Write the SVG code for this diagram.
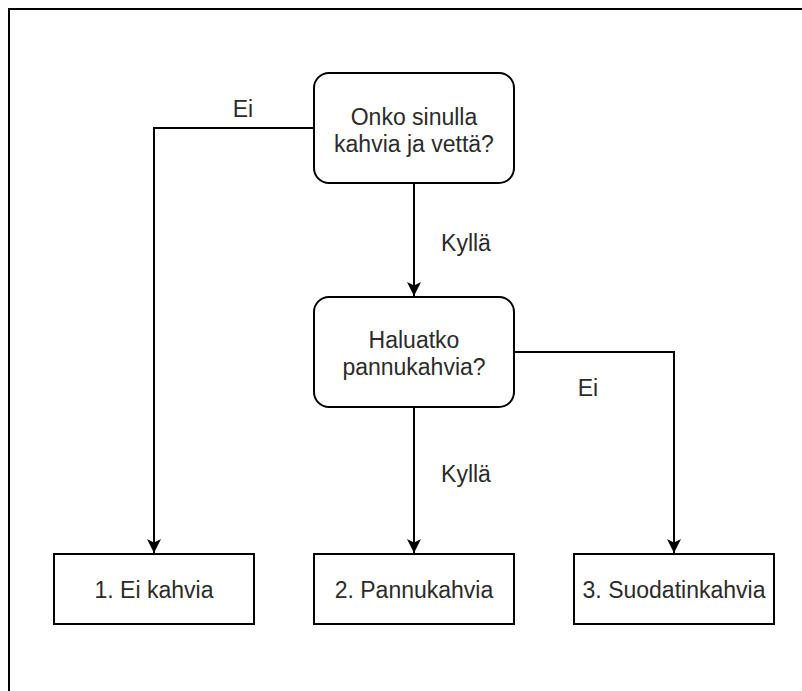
<svg xmlns="http://www.w3.org/2000/svg" width="802" height="691" viewBox="0 0 802 691">
<style>
.node{fill:#fff;stroke:#000;stroke-width:2}
.t{font-family:"Liberation Sans",Arial,sans-serif;font-size:23px;fill:#2b2b2b;text-anchor:middle}
.c{fill:none;stroke:#000;stroke-width:2}
</style>
<defs>
<marker id="arr" markerUnits="userSpaceOnUse" viewBox="0 0 14 14" markerWidth="14" markerHeight="14" refX="14" refY="7" orient="auto">
<path d="M0,0 L14,7 L0,14 L3.5,7 Z" fill="#000"/>
</marker>
</defs>
<rect width="802" height="691" fill="#fff"/>
<path d="M9,691 V9 H802" fill="none" stroke="#000" stroke-width="2"/>
<g id="connectors">
<path class="c" d="M314,128 H154 V553" marker-end="url(#arr)"/>
<path class="c" d="M414,183 V296" marker-end="url(#arr)"/>
<path class="c" d="M514,352 H674 V553" marker-end="url(#arr)"/>
<path class="c" d="M414,407 V553" marker-end="url(#arr)"/>
<text class="t" x="243" y="117">Ei</text>
<text class="t" x="466" y="251">Kyllä</text>
<text class="t" x="588" y="396">Ei</text>
<text class="t" x="466" y="482">Kyllä</text>
</g>
<g id="q1">
<rect class="node" x="314" y="73" width="200" height="110" rx="15"/>
<text class="t" x="414" y="125">Onko sinulla</text>
<text class="t" x="414" y="152">kahvia ja vettä?</text>
</g>
<g id="q2">
<rect class="node" x="314" y="297" width="200" height="110" rx="15"/>
<text class="t" x="414" y="348">Haluatko</text>
<text class="t" x="414" y="375">pannukahvia?</text>
</g>
<g id="r1">
<rect class="node" x="54" y="554" width="200" height="70"/>
<text class="t" x="154" y="598">1. Ei kahvia</text>
</g>
<g id="r2">
<rect class="node" x="314" y="554" width="200" height="70"/>
<text class="t" x="414" y="598">2. Pannukahvia</text>
</g>
<g id="r3">
<rect class="node" x="574" y="554" width="200" height="70"/>
<text class="t" x="674" y="598">3. Suodatinkahvia</text>
</g>
</svg>
